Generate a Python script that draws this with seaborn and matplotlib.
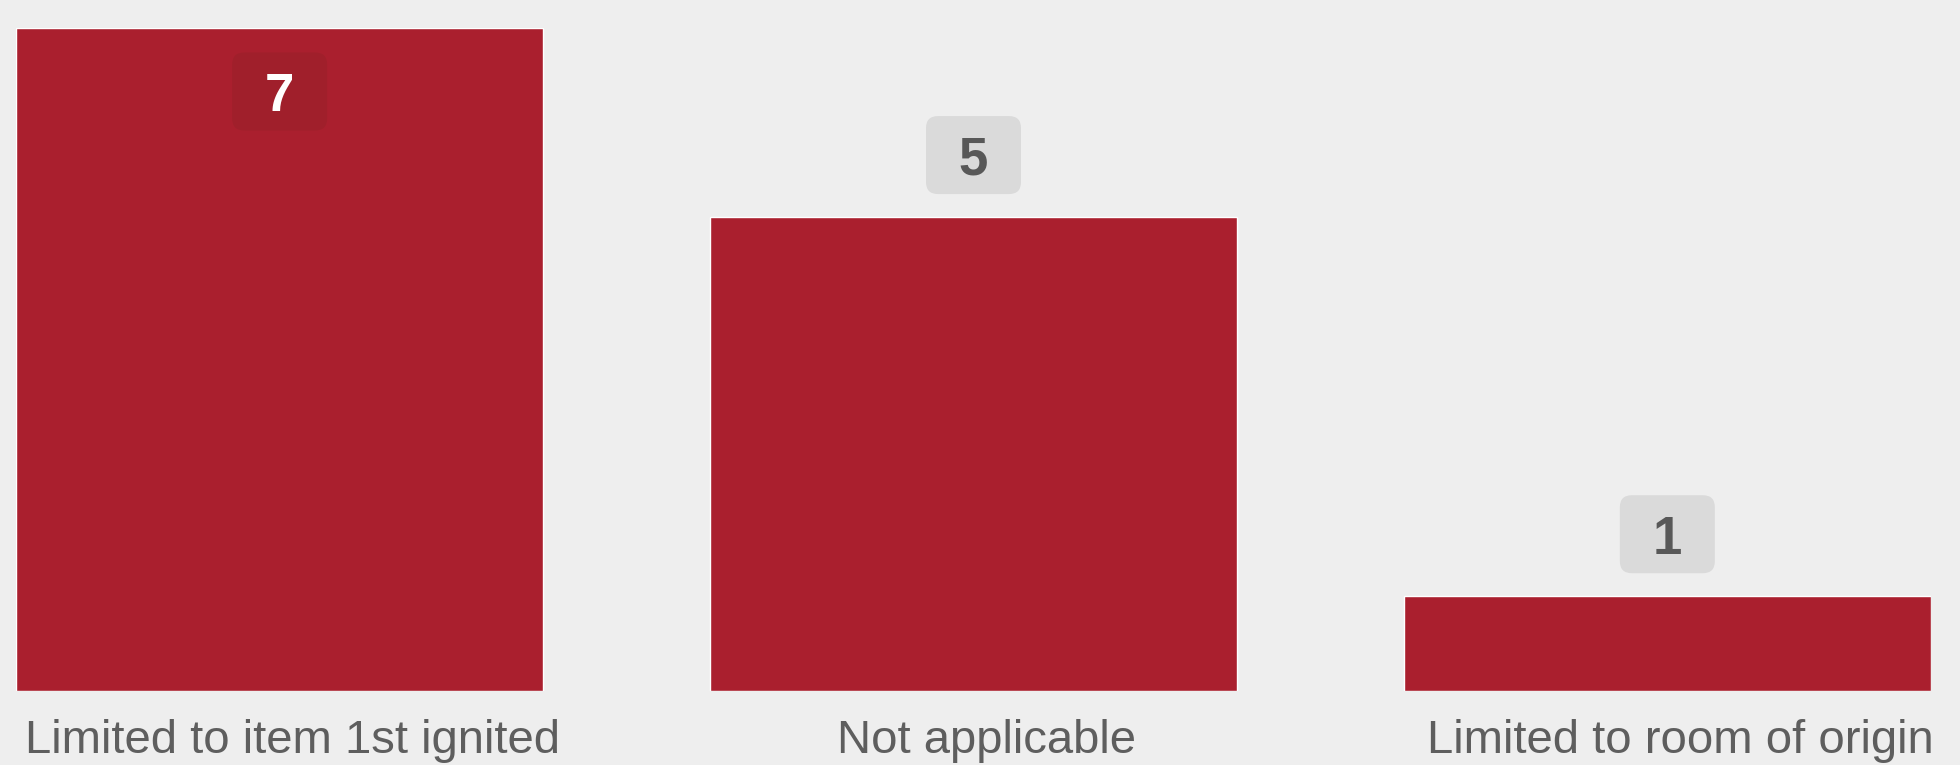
import matplotlib
matplotlib.use("Agg")
import matplotlib.pyplot as plt
import matplotlib.transforms as mtrans
from matplotlib.patches import FancyBboxPatch
import seaborn as sns

categories = ["Limited to item 1st ignited", "Not applicable", "Limited to room of origin"]
counts = [7, 5, 1]

bar_color = "#AA1F2E"
bg_color = "#EEEEEE"

sns.set_style("white")
plt.rcParams["font.family"] = ["Liberation Sans", "DejaVu Sans"]

fig = plt.figure(figsize=(19.6, 7.65), dpi=100, facecolor=bg_color)
ax = fig.add_axes([16 / 1960, 74 / 765, 1915 / 1960, 663.5 / 765])
ax.set_facecolor(bg_color)

sns.barplot(x=categories, y=counts, color=bar_color, saturation=1, width=0.76, ax=ax)
ax.set_xlim(-0.38, 2.38)
ax.set_ylim(0, max(counts))
sns.despine(ax=ax, left=True, bottom=True)
ax.set_yticks([])
ax.set_xlabel("")
ax.set_ylabel("")
ax.tick_params(axis="x", length=0, pad=20, labelsize=34, labelcolor="#5E5E5E")

# labels sit slightly right of the bar centres in the original
shift = mtrans.ScaledTranslation(13 / 100, 0, fig.dpi_scale_trans)
for lab in ax.get_xticklabels():
    lab.set_transform(lab.get_transform() + shift)

# value badges (fixed pixel size)
fig.canvas.draw()
for i, v in enumerate(counts):
    cx, cy = ax.transData.transform((i, v))
    inside = v == max(counts)
    if inside:
        yc = cy - 64
        fc, tc = "#A01F2B", "white"
    else:
        yc = cy + 62
        fc, tc = "#DADADA", "#585858"
    box = FancyBboxPatch((cx - 47.5, yc - 39), 95, 78,
                         boxstyle="round,pad=0,rounding_size=12",
                         transform=mtrans.IdentityTransform(),
                         fc=fc, ec="none")
    fig.add_artist(box)
    fig.text(cx, yc, str(v), transform=mtrans.IdentityTransform(),
             ha="center", va="center_baseline", fontsize=38,
             fontweight="heavy", color=tc)

fig.savefig("out.png", dpi=100, facecolor=bg_color)
